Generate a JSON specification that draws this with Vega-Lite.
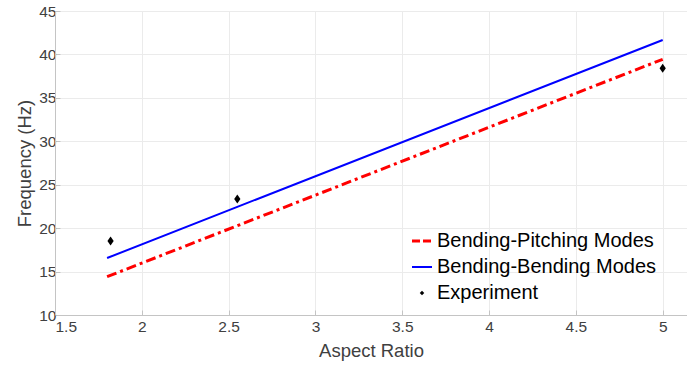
{
  "$schema": "https://vega.github.io/schema/vega-lite/v6.json",
  "width": 632,
  "height": 304,
  "autosize": {"type": "none"},
  "padding": {"left": 55, "top": 11, "right": 0, "bottom": 53},
  "background": "white",
  "config": {
    "font": "Liberation Sans",
    "view": {"stroke": "#c4c4c4", "strokeWidth": 1},
    "axis": {
      "labelFont": "Liberation Sans",
      "titleFont": "Liberation Sans",
      "labelFontSize": 15.5,
      "titleFontSize": 18.5,
      "labelColor": "#404040",
      "titleColor": "#404040",
      "titleFontWeight": "normal",
      "gridColor": "#ebebeb",
      "gridWidth": 1,
      "domainColor": "#c4c4c4",
      "tickColor": "#c4c4c4",
      "tickSize": -5
    }
  },
  "datasets": {
    "lines": [
      {"aspect": 1.80, "freq": 14.41, "series": "Bending-Pitching Modes"},
      {"aspect": 2.55, "freq": 20.28, "series": "Bending-Pitching Modes"},
      {"aspect": 5.00, "freq": 39.44, "series": "Bending-Pitching Modes"},
      {"aspect": 1.80, "freq": 16.56, "series": "Bending-Bending Modes"},
      {"aspect": 2.55, "freq": 22.45, "series": "Bending-Bending Modes"},
      {"aspect": 5.00, "freq": 41.66, "series": "Bending-Bending Modes"}
    ],
    "exp": [
      {"aspect": 1.82, "freq": 18.52, "series": "Experiment"},
      {"aspect": 2.55, "freq": 23.36, "series": "Experiment"},
      {"aspect": 5.00, "freq": 38.4, "series": "Experiment"}
    ]
  },
  "layer": [
    {
      "data": {"name": "lines"},
      "transform": [{"filter": "datum.series === 'Bending-Pitching Modes'"}],
      "mark": {"type": "line", "strokeWidth": 3, "strokeDash": [10, 4, 3, 4], "clip": true},
      "encoding": {
        "x": {"field": "aspect", "type": "quantitative", "scale": {"domain": [1.5, 5.14], "nice": false, "zero": false},
          "axis": {"values": [1.5, 2, 2.5, 3, 3.5, 4, 4.5, 5], "format": ".1~f", "title": "Aspect Ratio", "labelPadding": 9, "titlePadding": 7}},
        "y": {"field": "freq", "type": "quantitative", "scale": {"domain": [10, 45], "nice": false, "zero": false},
          "axis": {"values": [10, 15, 20, 25, 30, 35, 40, 45], "title": "Frequency (Hz)", "labelPadding": 4, "titlePadding": 4}},
        "color": {"field": "series", "type": "nominal",
          "scale": {"domain": ["Bending-Pitching Modes", "Bending-Bending Modes", "Experiment"], "range": ["#ff0000", "#0000ff", "#000000"]},
          "legend": {
            "title": null,
            "orient": "none",
            "legendX": 357,
            "legendY": 220,
            "labelFontSize": 20,
            "labelColor": "#000000",
            "labelFont": "Liberation Sans",
            "labelLimit": 0,
            "symbolSize": 400,
            "rowPadding": 6,
            "labelOffset": 5,
            "encode": {
              "symbols": {
                "update": {
                  "shape": {"signal": "datum.value === 'Experiment' ? 'diamond' : 'stroke'"},
                  "size": {"signal": "datum.value === 'Experiment' ? 20 : 400"},
                  "fill": {"signal": "datum.value === 'Experiment' ? '#000000' : 'transparent'"},
                  "stroke": {"signal": "datum.value === 'Bending-Pitching Modes' ? '#ff0000' : (datum.value === 'Bending-Bending Modes' ? '#0000ff' : '#000000')"},
                  "strokeWidth": {"signal": "datum.value === 'Bending-Pitching Modes' ? 3 : (datum.value === 'Bending-Bending Modes' ? 2 : 0)"},
                  "strokeDash": {"signal": "datum.value === 'Bending-Pitching Modes' ? [8, 3] : [1, 0]"}
                }
              }
            }
          }
        }
      }
    },
    {
      "data": {"name": "lines"},
      "transform": [{"filter": "datum.series === 'Bending-Bending Modes'"}],
      "mark": {"type": "line", "strokeWidth": 2, "clip": true},
      "encoding": {
        "x": {"field": "aspect", "type": "quantitative"},
        "y": {"field": "freq", "type": "quantitative"},
        "color": {"field": "series", "type": "nominal"}
      }
    },
    {
      "data": {"name": "exp"},
      "mark": {"type": "point", "shape": "M0,-1L0.7,0L0,1L-0.7,0Z", "filled": true, "size": 80, "opacity": 1},
      "encoding": {
        "x": {"field": "aspect", "type": "quantitative"},
        "y": {"field": "freq", "type": "quantitative"},
        "color": {"field": "series", "type": "nominal"}
      }
    }
  ]
}
